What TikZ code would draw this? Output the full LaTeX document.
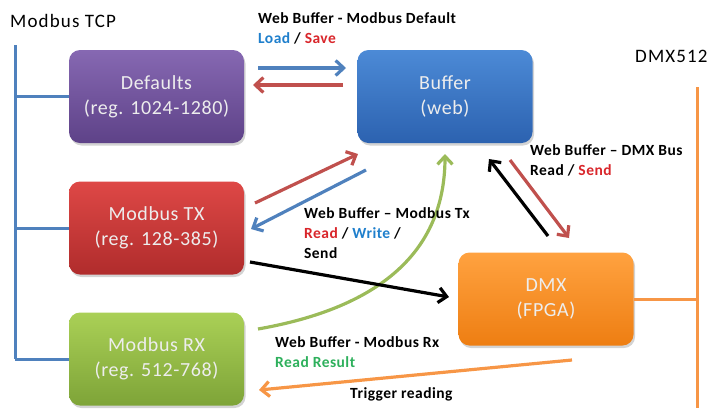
\documentclass[tikz,border=0pt]{standalone}
\usepackage{fontspec}
\setmainfont{Carlito}[LetterSpace=3]
\newfontfamily\headfont{Carlito}[LetterSpace=6]
\usetikzlibrary{arrows.meta,shadows}
\definecolor{busblue}{HTML}{4F81BD}
\definecolor{arrblue}{HTML}{4F81BD}
\definecolor{arrred}{HTML}{C0504D}
\definecolor{arrgreen}{HTML}{9BBB59}
\definecolor{arrorange}{HTML}{F79646}
\definecolor{txtblue}{HTML}{1F7FCC}
\definecolor{txtred}{HTML}{D9262B}
\definecolor{txtgreen}{HTML}{2EB05C}
\tikzset{
  box/.style={rectangle, rounded corners=11pt, minimum width=175pt, minimum height=93pt,
    align=center, text=white!93!black, font=\fontsize{20}{25}\selectfont,
    drop shadow={shadow xshift=1.5pt, shadow yshift=-2.5pt, opacity=0.35}},
  arr/.style={line width=3.2pt, -{Straight Barb[length=8pt,width=15pt]}},
  lbl/.style={anchor=base west, inner sep=0pt, font=\fontsize{15.5}{20}\selectfont\bfseries},
  head/.style={anchor=base west, inner sep=0pt, font=\fontsize{19}{22}\selectfont\headfont},
  bus/.style={line width=3pt}
}
\begin{document}
\begin{tikzpicture}[x=1pt,y=-1pt]
\useasboundingbox (0,0) rectangle (707,408);
% boxes
\node[box, top color={rgb,255:red,134;green,104;blue,178}, bottom color={rgb,255:red,94;green,66;blue,136}] (def) at (156.5,96.5) {Defaults\\(reg. 1024-1280)};
\node[box, top color={rgb,255:red,222;green,72;blue,70}, bottom color={rgb,255:red,176;green,44;blue,44}] (tx) at (156.5,228) {Modbus TX\\(reg. 128-385)};
\node[box, top color={rgb,255:red,170;green,208;blue,86}, bottom color={rgb,255:red,126;green,164;blue,56}] (rx) at (156.5,359) {Modbus RX\\(reg. 512-768)};
\node[box, top color={rgb,255:red,76;green,138;blue,214}, bottom color={rgb,255:red,44;green,98;blue,176}] (buf) at (445,96.5) {Buffer\\(web)};
\node[box, top color={rgb,255:red,255;green,162;blue,64}, bottom color={rgb,255:red,238;green,126;blue,18}] (dmx) at (546,299) {DMX\\(FPGA)};

% headings
\node[head] (mtcp) at (10,27) {Modbus TCP};
\node[head] (d512) at (635,62) {DMX512};

% Modbus bus
\coordinate (busTop) at (15,45);
\coordinate (busBot) at (15,359);
\draw[bus, busblue] (busTop) -- (busBot);
\draw[bus, busblue] (busTop |- def.west) -- (def.west);
\draw[bus, busblue] (busTop |- tx.west) -- (tx.west);
\draw[bus, busblue] (busBot) -- (rx.west);

% DMX bus
\coordinate (dTop) at (697,87);
\coordinate (dBot) at (697,408);
\draw[bus, arrorange] (dTop) -- (dBot);
\draw[bus, arrorange] (dmx.east) -- (dTop |- dmx.east);

% arrows between defaults and buffer
\coordinate (l1) at (258,68); \coordinate (l2) at (346,68);
\coordinate (s1) at (343,85); \coordinate (s2) at (253,85);
\draw[arr, arrblue] (l1) -- (l2);
\draw[arr, arrred] (s1) -- (s2);

% TX <-> buffer
\coordinate (r1) at (255,203); \coordinate (r2) at (358,154);
\coordinate (w1) at (366,170); \coordinate (w2) at (251,229);
\draw[arr, arrred] (r1) -- (r2);
\draw[arr, arrblue] (w1) -- (w2);

% RX -> buffer (green curve)
\coordinate (g1) at (258,329); \coordinate (g2) at (445,154);
\draw[arr, arrgreen] (g1) .. controls (395,305) and (445,240) .. (g2);

% TX -> DMX
\coordinate (k1) at (250,262); \coordinate (k2) at (449,297);
\draw[arr, black] (k1) -- (k2);

% DMX <-> buffer
\coordinate (b1) at (548,236); \coordinate (b2) at (489,159);
\draw[arr, black] (b1) -- (b2);
\coordinate (e1) at (510,160); \coordinate (e2) at (569,238);
\draw[arr, arrred] (e1) -- (e2);

% DMX -> RX
\coordinate (o1) at (572,360); \coordinate (o2) at (259,390);
\draw[arr, arrorange] (o1) -- (o2);

% labels
\node[lbl] (t1) at (258,23) {Web Buffer - Modbus Default};
\node[lbl] (t2) at (258,43) {\textcolor{txtblue}{Load} / \textcolor{txtred}{Save}};
\node[lbl] (t3) at (530,155) {Web Buffer -- DMX Bus};
\node[lbl] (t4) at (530,175) {Read / \textcolor{txtred}{Send}};
\node[lbl] (t5) at (304,218) {Web Buffer -- Modbus Tx};
\node[lbl] (t6) at (304,238) {\textcolor{txtred}{Read} / \textcolor{txtblue}{Write} /};
\node[lbl] (t7) at (304,258) {Send};
\node[lbl] (t8) at (275,347) {Web Buffer - Modbus Rx};
\node[lbl] (t9) at (275,367) {\textcolor{txtgreen}{Read Result}};
\node[lbl] (t10) at (350,398) {Trigger reading};
\end{tikzpicture}
\end{document}
